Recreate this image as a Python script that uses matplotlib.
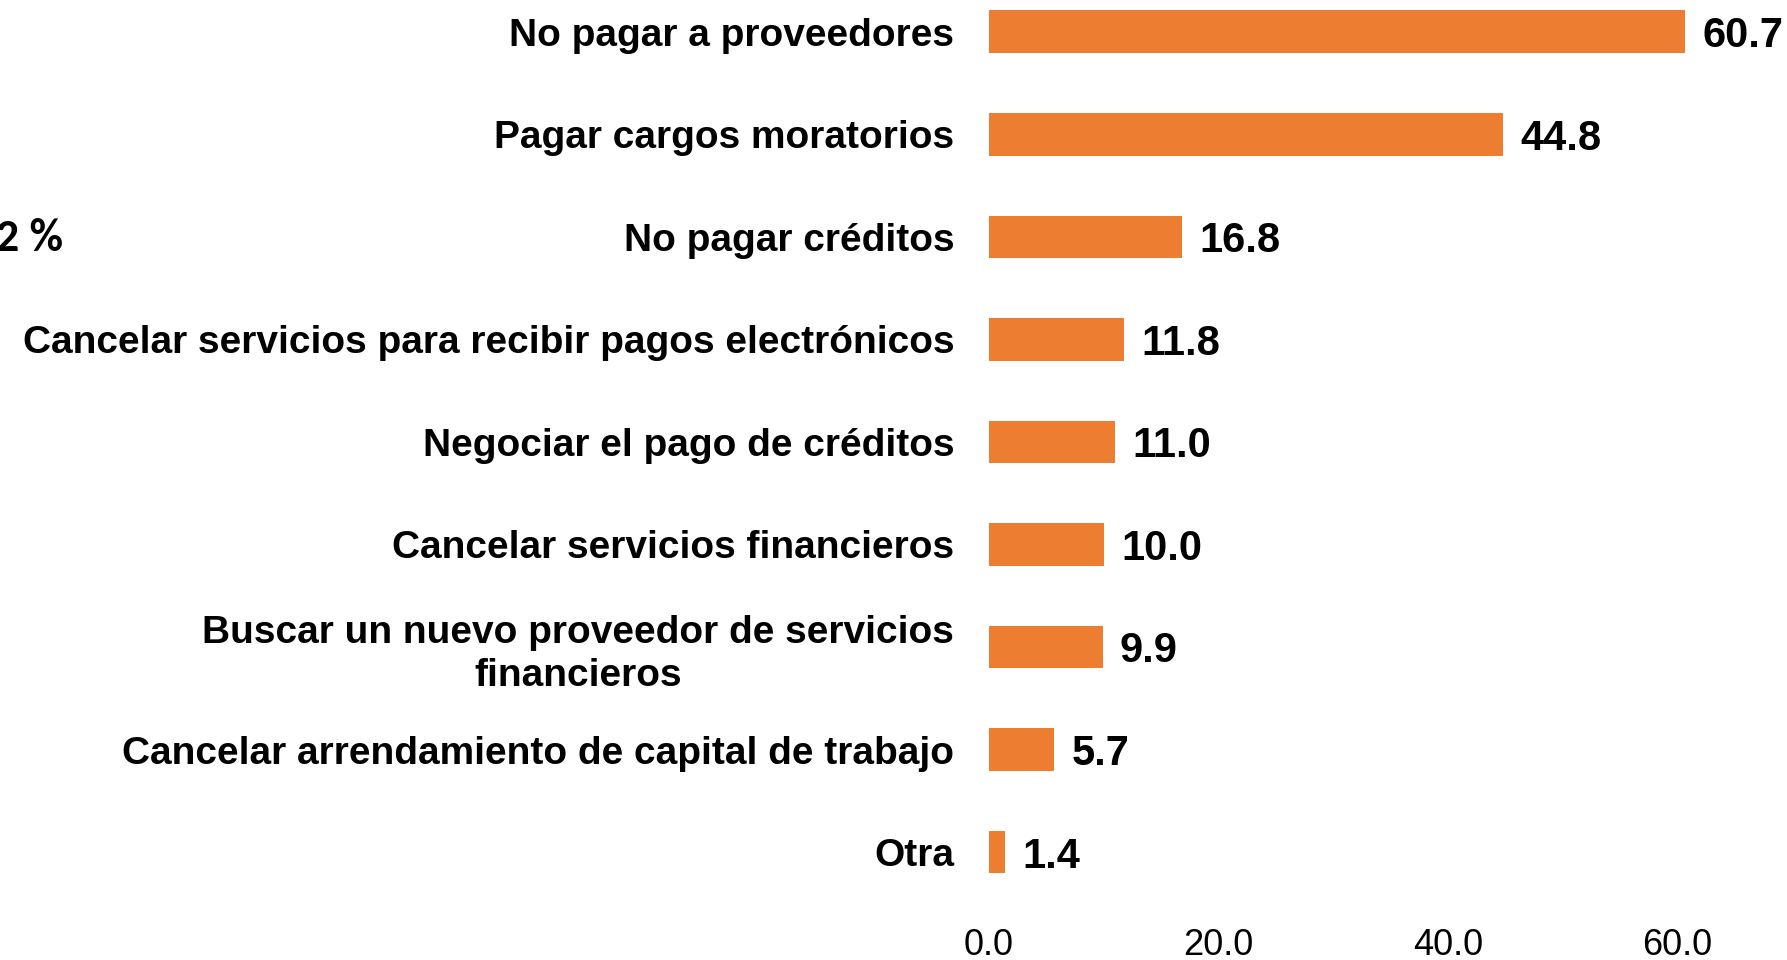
import matplotlib
matplotlib.use("Agg")
import matplotlib.pyplot as plt

# --- data ---
categories = [
    "No pagar a proveedores",
    "Pagar cargos moratorios",
    "No pagar créditos",
    "Cancelar servicios para recibir pagos electrónicos",
    "Negociar el pago de créditos",
    "Cancelar servicios financieros",
    "Buscar un nuevo proveedor de servicios\nfinancieros",
    "Cancelar arrendamiento de capital de trabajo",
    "Otra",
]
values = [60.7, 44.8, 16.8, 11.8, 11.0, 10.0, 9.9, 5.7, 1.4]
xticks = [0, 20, 40, 60]
stray_text = "2 %"

bar_color = "#ED7D31"

plt.rcParams["font.family"] = ["Liberation Sans", "DejaVu Sans"]

W, H = 1787, 960
fig = plt.figure(figsize=(W / 100, H / 100), dpi=100)

# pixel geometry of the plotting area
x0_px = 989          # where 0 sits
px_per_unit = 11.47
row_px = 102.55
top_center_px = 31.7
bottom_px = 905

left = x0_px / W
ax = fig.add_axes([left, 1 - bottom_px / H, 1 - left, bottom_px / H])
ax.set_xlim(0, (W - x0_px) / px_per_unit)
ax.set_ylim((bottom_px - top_center_px) / row_px, -top_center_px / row_px)

ypos = list(range(len(categories)))
ax.barh(ypos, values, height=0.415, color=bar_color)

for y, v in zip(ypos, values):
    ax.annotate(f"{v:.1f}", xy=(v, y), xytext=(12.5, 0), textcoords="offset points",
                ha="left", va="center_baseline", fontsize=30, fontweight="bold")

ax.set_yticks(ypos)
ax.set_yticklabels(categories, fontsize=28, fontweight="bold",
                   multialignment="center", linespacing=1.25)
ax.tick_params(axis="y", length=0, pad=25)

ax.set_xticks(xticks)
ax.set_xticklabels([f"{t:.1f}" for t in xticks], fontsize=26)
ax.tick_params(axis="x", length=0, pad=16.5)

for s in ax.spines.values():
    s.set_visible(False)

fig.text(63 / W, 1 - 238 / H, stray_text, ha="right", va="center",
         fontsize=33, fontweight="bold", family=["Carlito", "DejaVu Sans"])

fig.savefig("out.png", dpi=100)
